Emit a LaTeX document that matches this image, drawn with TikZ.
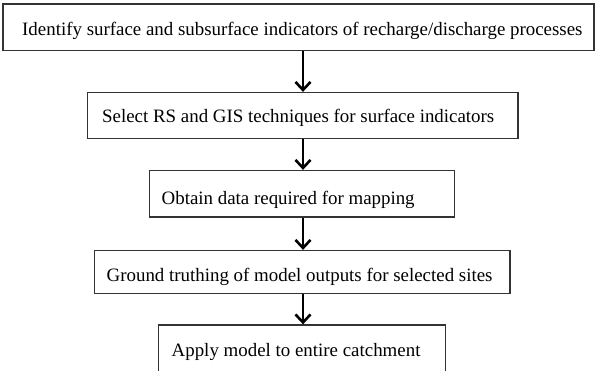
\documentclass[tikz,border=0pt]{standalone}
\usepackage{fontspec}
\setmainfont{Liberation Serif}
\usetikzlibrary{arrows.meta}
\begin{document}
\begin{tikzpicture}[x=1pt,y=-1pt,
  box/.style={draw=black!80,line width=1.3pt,rectangle,inner sep=0pt},
  lbl/.style={anchor=base west,inner sep=0pt,font=\fontsize{18.9}{22}\selectfont},
  flow/.style={line width=2.6pt,-{Straight Barb[length=8pt,width=15pt,line width=2.6pt]}}]
\useasboundingbox (0,0) rectangle (595,371);
\clip (0,0) rectangle (595,371);
\fill[white] (0,0) rectangle (595,371);
\node[box,minimum width=591pt,minimum height=46.5pt] (b1) at (298.5,27.25) {};
\node[box,minimum width=430.5pt,minimum height=46pt] (b2) at (302.75,115.5) {};
\node[box,minimum width=305pt,minimum height=46.5pt] (b3) at (302,193.75) {};
\node[box,minimum width=415.5pt,minimum height=43pt] (b4) at (302.25,272) {};
\node[box,minimum width=287pt,minimum height=48pt] (b5) at (302,349) {};
\node[lbl] (t1) at (22,36) {Identify surface and subsurface indicators of recharge/discharge processes};
\node[lbl] (t2) at (102,123) {Select RS and GIS techniques for surface indicators};
\node[lbl] (t3) at (161.5,205) {Obtain data required for mapping};
\node[lbl] (t4) at (106.5,281.5) {Ground truthing of model outputs for selected sites};
\node[lbl] (t5) at (171.5,356.5) {Apply model to entire catchment};
\coordinate (ax) at (303,0);
\draw[flow] (b1.south -| ax) -- (b2.north -| ax);
\draw[flow] (b2.south -| ax) -- (b3.north -| ax);
\draw[flow] (b3.south -| ax) -- (b4.north -| ax);
\draw[flow] (b4.south -| ax) -- (b5.north -| ax);
\end{tikzpicture}
\end{document}
